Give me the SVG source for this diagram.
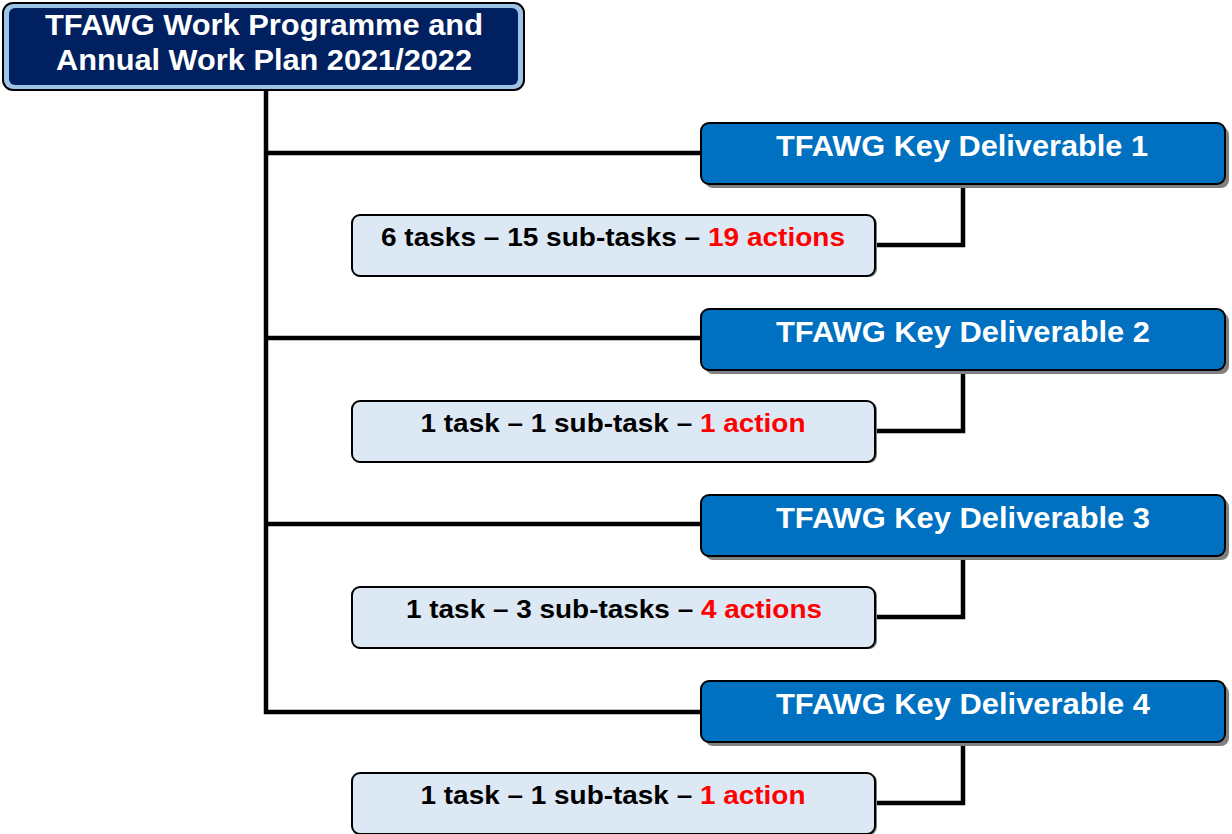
<svg xmlns="http://www.w3.org/2000/svg" width="1232" height="834" viewBox="0 0 1232 834">
<defs>
<style>
.conn{fill:none;stroke:#000;stroke-width:4.5;stroke-linejoin:miter}
.kd{fill:#0070c0;stroke:#000;stroke-width:2}
.sh{fill:#808080}
.sb{fill:#dde8f5;stroke:#000;stroke-width:2}
.wt{font-family:"Liberation Sans",Arial,sans-serif;font-weight:bold;fill:#fff;font-size:29px;text-anchor:middle}
.bt{font-family:"Liberation Sans",Arial,sans-serif;font-weight:bold;fill:#000;font-size:26px;text-anchor:middle}
.red{fill:#ff0000}
</style>
</defs>
<rect width="1232" height="834" fill="#fff"/>
<g id="connectors">
<path class="conn" d="M266 91 V712 H702"/>
<path class="conn" d="M266 153 H702"/>
<path class="conn" d="M266 338 H702"/>
<path class="conn" d="M266 524 H702"/>
<path class="conn" d="M963 184 V245 H876"/>
<path class="conn" d="M963 370 V431 H876"/>
<path class="conn" d="M963 556 V617 H876"/>
<path class="conn" d="M963 742 V803 H876"/>
</g>
<g id="root">
<rect x="2" y="2" width="523" height="89" rx="11" fill="#000"/>
<rect x="4" y="4" width="519" height="85" rx="9" fill="#9dc3e6"/>
<rect x="9" y="8" width="509" height="77" rx="6" fill="#002060"/>
<text class="wt" x="264" y="35" textLength="438" lengthAdjust="spacingAndGlyphs">TFAWG Work Programme and</text>
<text class="wt" x="264" y="70" textLength="416" lengthAdjust="spacingAndGlyphs">Annual Work Plan 2021/2022</text>
</g>
<g id="kd1">
<rect class="sh" x="705" y="127" width="524" height="61" rx="8"/>
<rect class="kd" x="701" y="123" width="524" height="61" rx="8"/>
<text class="wt" x="962" y="156" textLength="372" lengthAdjust="spacingAndGlyphs">TFAWG Key Deliverable 1</text>
</g>
<g id="sub1">
<rect class="sh" x="353" y="216" width="524" height="61" rx="8"/>
<rect class="sb" x="352" y="215" width="523" height="61" rx="8"/>
<text class="bt" x="613" y="246" textLength="464" lengthAdjust="spacingAndGlyphs">6 tasks – 15 sub-tasks – <tspan class="red">19 actions</tspan></text>
</g>
<g id="kd2">
<rect class="sh" x="705" y="313" width="524" height="61" rx="8"/>
<rect class="kd" x="701" y="309" width="524" height="61" rx="8"/>
<text class="wt" x="963" y="342" textLength="374" lengthAdjust="spacingAndGlyphs">TFAWG Key Deliverable 2</text>
</g>
<g id="sub2">
<rect class="sh" x="353" y="402" width="524" height="61" rx="8"/>
<rect class="sb" x="352" y="401" width="523" height="61" rx="8"/>
<text class="bt" x="613" y="432" textLength="385" lengthAdjust="spacingAndGlyphs">1 task – 1 sub-task – <tspan class="red">1 action</tspan></text>
</g>
<g id="kd3">
<rect class="sh" x="705" y="499" width="524" height="61" rx="8"/>
<rect class="kd" x="701" y="495" width="524" height="61" rx="8"/>
<text class="wt" x="963" y="528" textLength="374" lengthAdjust="spacingAndGlyphs">TFAWG Key Deliverable 3</text>
</g>
<g id="sub3">
<rect class="sh" x="353" y="588" width="524" height="61" rx="8"/>
<rect class="sb" x="352" y="587" width="523" height="61" rx="8"/>
<text class="bt" x="614" y="618" textLength="416" lengthAdjust="spacingAndGlyphs">1 task – 3 sub-tasks – <tspan class="red">4 actions</tspan></text>
</g>
<g id="kd4">
<rect class="sh" x="705" y="685" width="524" height="61" rx="8"/>
<rect class="kd" x="701" y="681" width="524" height="61" rx="8"/>
<text class="wt" x="963" y="714" textLength="374" lengthAdjust="spacingAndGlyphs">TFAWG Key Deliverable 4</text>
</g>
<g id="sub4">
<rect class="sh" x="353" y="774" width="524" height="61" rx="8"/>
<rect class="sb" x="352" y="773" width="523" height="61" rx="8"/>
<text class="bt" x="613" y="804" textLength="385" lengthAdjust="spacingAndGlyphs">1 task – 1 sub-task – <tspan class="red">1 action</tspan></text>
</g>
</svg>
